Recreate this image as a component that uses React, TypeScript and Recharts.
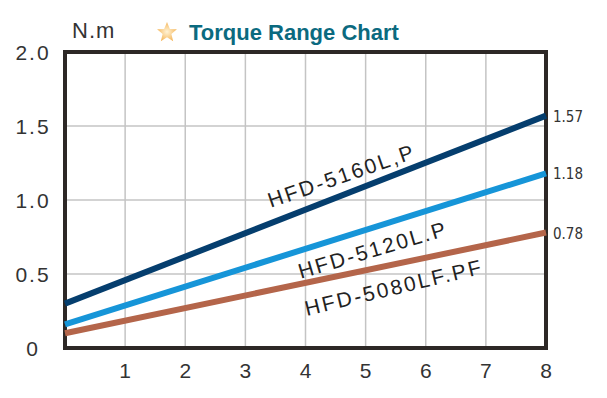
import { LineChart, Line, XAxis, YAxis, CartesianGrid, ReferenceArea, ReferenceDot, LabelList } from "recharts";

const xValues = [0, 8];
const hfd5160 = [0.3, 1.57];
const hfd5120 = [0.16, 1.18];
const hfd5080 = [0.1, 0.78];
const xTicks = [1, 2, 3, 4, 5, 6, 7, 8];
const yTicks = [0, 0.5, 1, 1.5, 2];

const seriesNames = ["HFD-5160L,P", "HFD-5120L.P", "HFD-5080LF.PF"];
const seriesColors = ["#053e6e", "#1695d8", "#b4654a"];
// where each model name sits along its line, and its tilt
const nameAt = [
  { x: 4.6, y: 1.165, angle: -19 },
  { x: 5.12, y: 0.665, angle: -16.5 },
  { x: 5.47, y: 0.41, angle: -13.5 },
];

const data = xValues.map((x, i) => ({
  x,
  a: hfd5160[i],
  b: hfd5120[i],
  c: hfd5080[i],
}));

const sans = "'Liberation Sans', Arial, sans-serif";
const narrow = "'Liberation Sans Narrow', 'DejaVu Sans Condensed', 'Liberation Sans', sans-serif";

const YTick = (props: any) => {
  const { x, y, payload } = props;
  const v = payload.value;
  return (
    <text x={x - 24} y={y + 8} textAnchor="middle" fontSize={21} fill="#333" letterSpacing={2} fontFamily={sans}>
      {v === 0 ? "0" : v.toFixed(1)}
    </text>
  );
};

const XTick = (props: any) => {
  const { x, y, payload } = props;
  return (
    <text x={x} y={y + 22} textAnchor="middle" fontSize={21} fill="#333" fontFamily={sans}>
      {payload.value}
    </text>
  );
};

const endLabel = (props: any) => {
  const { x, y, value, index } = props;
  if (index !== xValues.length - 1) return null;
  return (
    <text x={x + 7} y={y + 6} fontSize={15} fill="#333" fontFamily={narrow}>
      {value.toFixed(2)}
    </text>
  );
};

const nameLabel = (text: string, angle: number) => (props: any) => {
  const { viewBox } = props;
  const cx = viewBox.x + (viewBox.width || 0) / 2;
  const cy = viewBox.y + (viewBox.height || 0) / 2;
  return (
    <text x={cx} y={cy} textAnchor="middle" dominantBaseline="central" fontSize={21} letterSpacing={2.4} fill="#222" fontFamily={sans} transform={`rotate(${angle} ${cx} ${cy})`}>
      {text}
    </text>
  );
};

const Star = () => (
  <svg width="22" height="22" viewBox="0 0 20 20" style={{ position: "absolute", left: 156, top: 21 }}>
    <defs>
      <radialGradient id="sg" cx="50%" cy="50%" r="60%">
        <stop offset="0%" stopColor="#fff3d6" />
        <stop offset="100%" stopColor="#f3ad48" />
      </radialGradient>
    </defs>
    <polygon points="10,1 12.6,7.2 19,7.6 14,11.8 15.6,18.5 10,14.8 4.4,18.5 6,11.8 1,7.6 7.4,7.2" fill="url(#sg)" />
  </svg>
);

export default function App() {
  const keys = ["a", "b", "c"];
  return (
    <div style={{ position: "absolute", left: 0, top: 0, width: 607, height: 398, background: "#fff" }}>
      <div style={{ position: "absolute", left: 72, top: 18, fontSize: 22, color: "#333", fontFamily: sans, letterSpacing: 1 }}>N.m</div>
      <Star />
      <div style={{ position: "absolute", left: 189, top: 20, fontSize: 22, fontWeight: 700, color: "#0b6a7f", fontFamily: sans }}>
        Torque Range Chart
      </div>
      <LineChart width={607} height={398} data={data} margin={{ top: 52, right: 61, bottom: 0, left: 0 }}>
        <CartesianGrid stroke="#c4c4c4" strokeWidth={1.5} />
        <XAxis dataKey="x" type="number" domain={[0, 8]} ticks={xTicks} axisLine={false} tickLine={false} tick={<XTick />} height={50} />
        <YAxis type="number" domain={[0, 2]} ticks={yTicks} axisLine={false} tickLine={false} tick={<YTick />} width={65} />
        {keys.map((k, i) => (
          <Line key={k} dataKey={k} stroke={seriesColors[i]} strokeWidth={6} dot={false} isAnimationActive={false}>
            <LabelList dataKey={k} content={endLabel} />
          </Line>
        ))}
        {nameAt.map((p, i) => (
          <ReferenceDot key={i} x={p.x} y={p.y} r={0} fill="none" stroke="none" label={nameLabel(seriesNames[i], p.angle)} />
        ))}
        <ReferenceArea x1={0} x2={8} y1={0} y2={2} fill="none" stroke="#2d2826" strokeWidth={4} />
      </LineChart>
    </div>
  );
}
